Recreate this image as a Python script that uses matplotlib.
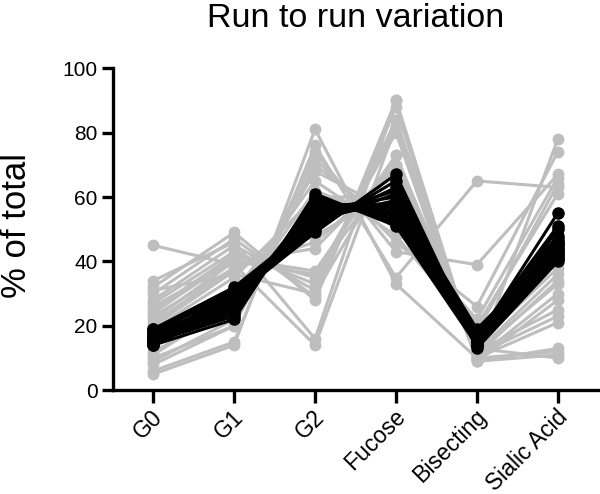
import matplotlib
matplotlib.use("Agg")
import matplotlib.pyplot as plt
import matplotlib.transforms as mtransforms

plt.rcParams['font.family'] = ['Liberation Sans', 'DejaVu Sans']

categories = ["G0", "G1", "G2", "Fucose", "Bisecting", "Sialic Acid"]

gray_series = [
    [5, 14, 81, 33, 10, 78],
    [6, 15, 76, 35, 65, 63],
    [8, 20, 74, 43, 39, 67],
    [9, 22, 72, 46, 26, 74],
    [10, 20, 70, 50, 22, 66],
    [12, 25, 68, 55, 20, 61],
    [14, 30, 65, 48, 18, 64],
    [19, 35, 60, 60, 16, 45],
    [20, 37, 50, 65, 14, 38],
    [21, 38, 46, 68, 12, 36],
    [22, 40, 44, 70, 11, 34],
    [24, 41, 37, 73, 10, 30],
    [25, 42, 35, 80, 9, 28],
    [27, 43, 33, 82, 12, 25],
    [28, 45, 31, 84, 11, 23],
    [30, 47, 29, 90, 10, 21],
    [32, 49, 28, 88, 9, 13],
    [34, 46, 16, 90, 10, 12],
    [45, 39, 14, 82, 9, 11],
    [31, 36, 30, 73, 13, 10],
    [26, 40, 36, 70, 15, 40],
    [23, 38, 48, 62, 12, 33],
    [17, 32, 55, 58, 17, 50],
    [11, 27, 62, 52, 19, 42],
]

black_series = [
    [14, 22, 61, 51, 14, 41],
    [15, 24, 60, 52, 15, 43],
    [15, 25, 59, 53, 16, 44],
    [16, 26, 58, 54, 14, 45],
    [16, 27, 57, 55, 17, 42],
    [17, 28, 56, 56, 15, 46],
    [17, 29, 55, 57, 16, 47],
    [18, 30, 54, 58, 18, 48],
    [18, 31, 53, 59, 15, 50],
    [19, 32, 52, 61, 17, 51],
    [19, 31, 51, 63, 16, 55],
    [16, 30, 50, 65, 13, 40],
    [15, 29, 49, 67, 14, 42],
    [17, 28, 56, 60, 19, 44],
    [18, 27, 58, 57, 15, 46],
    [14, 26, 54, 62, 16, 41],
    [15, 23, 59, 54, 17, 43],
    [16, 25, 57, 58, 18, 45],
]

yticks = [0, 20, 40, 60, 80, 100]

fig = plt.figure(figsize=(6.0, 4.94), dpi=100)
ax = fig.add_axes([0.188, 0.21, 0.809, 0.652])

x = list(range(len(categories)))
for s in gray_series:
    ax.plot(x, s, color="#bebebe", lw=2.2, marker="o", ms=7.5, zorder=2,
            clip_on=False)
for s in black_series:
    ax.plot(x, s, color="black", lw=2.2, marker="o", ms=8, zorder=3,
            clip_on=False)

ax.set_xlim(-0.5, 5.5)
ax.set_ylim(0, 100)
ax.set_yticks(yticks)
ax.set_yticklabels([str(v) for v in yticks], fontsize=15)
ax.set_xticks(x)
ax.set_xticklabels([])
lab_tr = ax.get_xaxis_transform() + mtransforms.ScaledTranslation(
    -2 / 100, -15 / 100, fig.dpi_scale_trans)
for i, cat in zip(x, categories):
    ax.text(i, 0, cat, transform=lab_tr, fontsize=16.6, rotation=45,
            ha="right", va="top", rotation_mode="anchor", clip_on=False)

for sp in ["top", "right"]:
    ax.spines[sp].set_visible(False)
for sp in ["left", "bottom"]:
    ax.spines[sp].set_linewidth(2.4)
ax.tick_params(axis="both", width=2.4, length=8, direction="out", pad=3)
ax.tick_params(axis="x", length=9)

ax.set_ylabel("% of total", fontsize=25)
ax.yaxis.set_label_coords(-0.165, 0.51)
fig.text(0.593, 0.963, "Run to run variation", fontsize=24.5, ha="center",
         va="center")

fig.savefig("out.png", dpi=100)
